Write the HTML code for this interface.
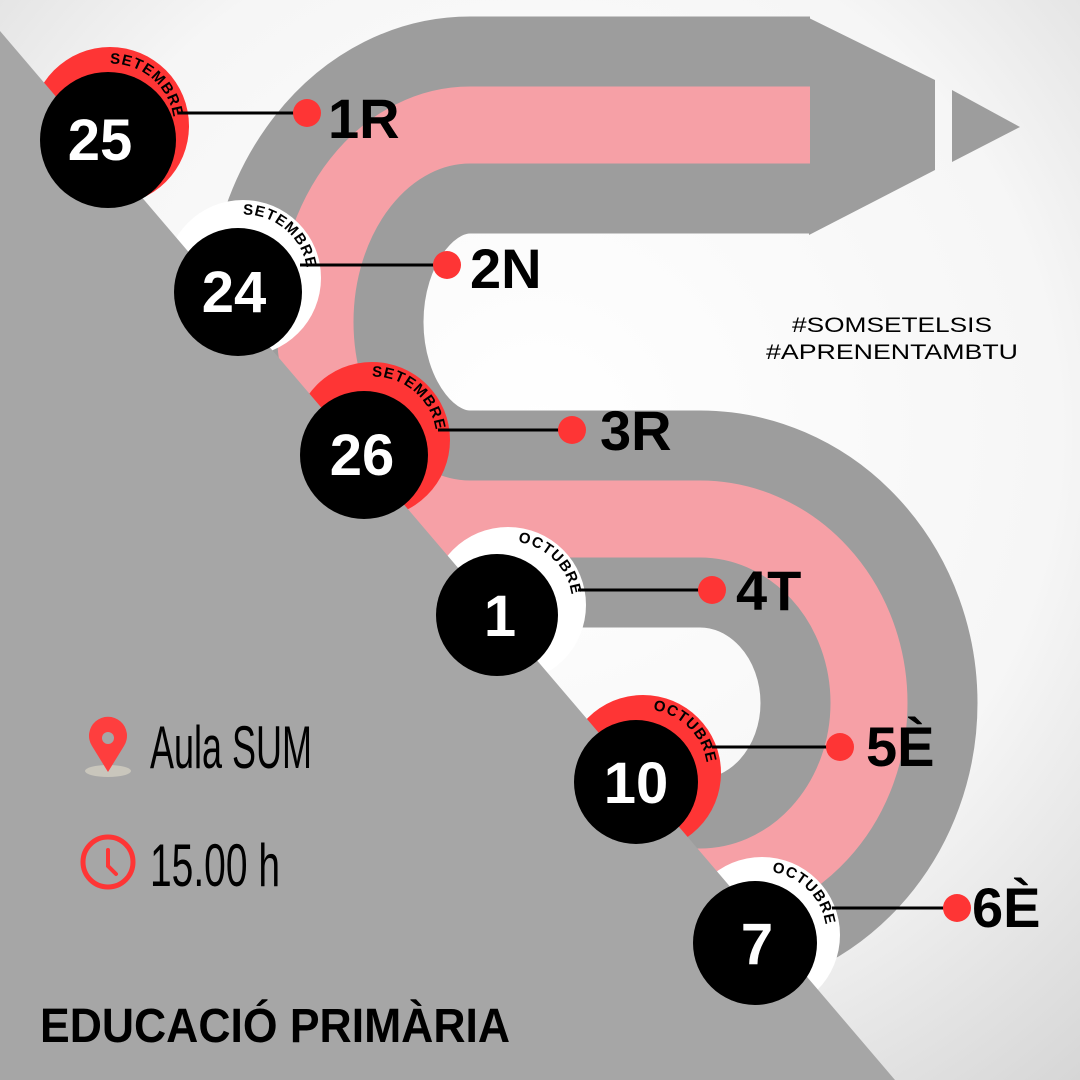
<!DOCTYPE html>
<html><head><meta charset="utf-8"><style>
html,body{margin:0;padding:0;width:1080px;height:1080px;overflow:hidden}
svg{display:block}
.lab{font-family:"Liberation Sans",sans-serif;font-weight:bold;font-size:56px;fill:#000}
.num{font-family:"Liberation Sans",sans-serif;font-weight:bold;font-size:58px;fill:#fff}
.arc{font-family:"Liberation Sans",sans-serif;font-weight:bold;font-size:15px;fill:#000;letter-spacing:1px}
</style></head><body>
<svg width="1080" height="1080" viewBox="0 0 1080 1080" xmlns="http://www.w3.org/2000/svg">
<defs>
<radialGradient id="bg" cx="0.5" cy="0.4" r="0.8">
<stop offset="0" stop-color="#ffffff"/><stop offset="0.6" stop-color="#f6f6f6"/><stop offset="1" stop-color="#d4d4d4"/>
</radialGradient>
</defs>
<rect width="1080" height="1080" fill="url(#bg)"/>
<!-- S shape -->
<path d="M810 125 H470 A155 197 0 0 0 470 519 H700 A169 184 0 0 1 700 887 H450" fill="none" stroke="#9d9d9d" stroke-width="217"/>
<polygon points="809,18 935,80 935,170 809,235" fill="#9d9d9d"/>
<polygon points="952,90 1020,127 952,162" fill="#9d9d9d"/>
<path d="M810 125 H470 A155 197 0 0 0 470 519 H700 A169 184 0 0 1 700 887 H450" fill="none" stroke="#f6a0a6" stroke-width="77"/>
<!-- rings -->
<circle cx="110" cy="126" r="79" fill="#fe3535"/>
<circle cx="243" cy="278" r="78" fill="#fff"/>
<circle cx="372" cy="440" r="78" fill="#fe3535"/>
<circle cx="508" cy="605" r="78" fill="#fff"/>
<circle cx="643" cy="773" r="78" fill="#fe3535"/>
<circle cx="762" cy="935" r="78" fill="#fff"/>
<!-- diagonal -->
<polygon points="0,31 895,1080 0,1080" fill="#a6a6a6"/>
<!-- curved labels -->
<g class="arc">
<path id="a1" d="M104 64 A63 63 0 0 1 172 143" fill="none"/>
<path id="a2" d="M237 215 A63 63 0 0 1 305 295" fill="none"/>
<path id="a3" d="M366 377 A63 63 0 0 1 434 457" fill="none"/>
<path id="a4" d="M502 542 A63 63 0 0 1 570 622" fill="none"/>
<path id="a5" d="M637 710 A63 63 0 0 1 705 790" fill="none"/>
<path id="a6" d="M756 872 A63 63 0 0 1 824 952" fill="none"/>
<text><textPath href="#a1" startOffset="6">SETEMBRE</textPath></text>
<text><textPath href="#a2" startOffset="6">SETEMBRE</textPath></text>
<text><textPath href="#a3" startOffset="6">SETEMBRE</textPath></text>
<text><textPath href="#a4" startOffset="16">OCTUBRE</textPath></text>
<text><textPath href="#a5" startOffset="16">OCTUBRE</textPath></text>
<text><textPath href="#a6" startOffset="16">OCTUBRE</textPath></text>
</g>
<!-- connectors -->
<g stroke="#000" stroke-width="3">
<line x1="178" y1="113" x2="305" y2="113"/>
<line x1="300" y1="265" x2="445" y2="265"/>
<line x1="438" y1="430" x2="570" y2="430"/>
<line x1="578" y1="590" x2="710" y2="590"/>
<line x1="712" y1="747" x2="838" y2="747"/>
<line x1="832" y1="908" x2="955" y2="908"/>
</g>
<g fill="#fe3535">
<circle cx="307" cy="113" r="14"/><circle cx="447" cy="265" r="14"/><circle cx="572" cy="430" r="14"/>
<circle cx="712" cy="590" r="14"/><circle cx="840" cy="747" r="14"/><circle cx="957" cy="908" r="14"/>
</g>
<text class="lab" x="328" y="138">1R</text>
<text class="lab" x="470" y="288">2N</text>
<text class="lab" x="600" y="450">3R</text>
<text class="lab" x="736" y="610">4T</text>
<text class="lab" x="866" y="766">5È</text>
<text class="lab" x="972" y="927">6È</text>
<!-- black circles -->
<g fill="#000">
<circle cx="108" cy="140" r="68"/><circle cx="238" cy="292" r="64"/><circle cx="364" cy="455" r="64"/>
<circle cx="497" cy="615" r="61"/><circle cx="636" cy="782" r="62"/><circle cx="755" cy="943" r="62"/>
</g>
<g class="num" text-anchor="middle">
<text x="100" y="160">25</text>
<text x="234" y="312">24</text>
<text x="362" y="475">26</text>
<text x="500" y="636">1</text>
<text x="636" y="803">10</text>
<text x="757" y="964">7</text>
</g>
<!-- hashtags -->
<g font-family="Liberation Sans, sans-serif" font-size="21" fill="#000" text-anchor="middle">
<text x="892" y="332" textLength="200" lengthAdjust="spacingAndGlyphs">#SOMSETELSIS</text>
<text x="892" y="359" textLength="252" lengthAdjust="spacingAndGlyphs">#APRENENTAMBTU</text>
</g>
<!-- info -->
<ellipse cx="108" cy="771" rx="23" ry="6" fill="#c9c6bc"/>
<path d="M108 772 L92 746 A19 19 0 1 1 124 746 Z" fill="#fe3e3e"/>
<circle cx="108" cy="738" r="6" fill="#a6a6a6"/>
<text x="150" y="768" font-family="Liberation Sans, sans-serif" font-size="60" fill="#000" textLength="162" lengthAdjust="spacingAndGlyphs">Aula SUM</text>
<circle cx="108" cy="862" r="25" fill="none" stroke="#fe3535" stroke-width="5"/>
<path d="M108 850 V866 L116 874" fill="none" stroke="#fe3535" stroke-width="4" stroke-linecap="round"/>
<text x="150" y="886" font-family="Liberation Sans, sans-serif" font-size="60" fill="#000" textLength="130" lengthAdjust="spacingAndGlyphs">15.00 h</text>
<text x="40" y="1042" font-family="Liberation Sans, sans-serif" font-weight="bold" font-size="48" fill="#000" textLength="470" lengthAdjust="spacingAndGlyphs">EDUCACIÓ PRIMÀRIA</text>
</svg>
</body></html>
